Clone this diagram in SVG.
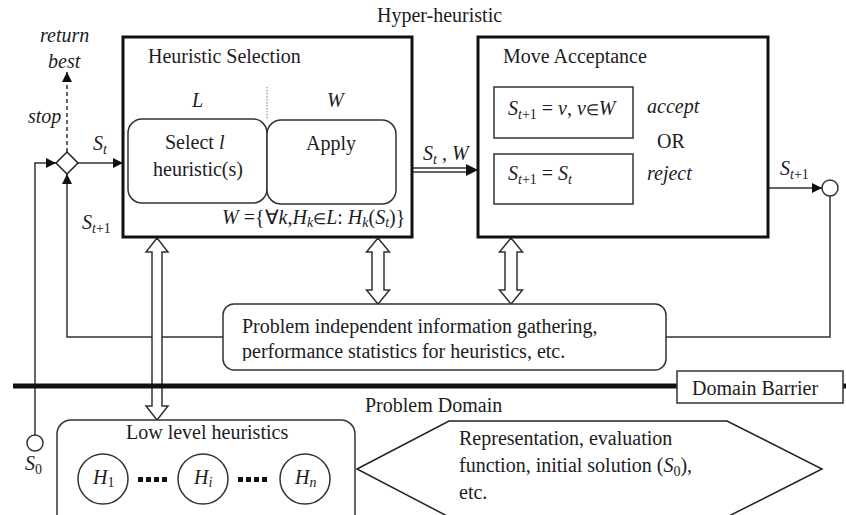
<svg xmlns="http://www.w3.org/2000/svg" width="846" height="515" viewBox="0 0 846 515">
  <defs>
    <marker id="tri" viewBox="0 0 10 10" refX="10" refY="5" markerWidth="10" markerHeight="10" markerUnits="userSpaceOnUse" orient="auto">
      <path d="M0,0 L10,5 L0,10 Z" fill="#111"/>
    </marker>
    <marker id="triBig" viewBox="0 0 12 12" refX="12" refY="6" markerWidth="12" markerHeight="12" markerUnits="userSpaceOnUse" orient="auto">
      <path d="M0,0 L12,6 L0,12 Z" fill="#111"/>
    </marker>
    <clipPath id="infoClip">
      <rect x="223" y="304" width="443" height="57"/>
    </clipPath>
  </defs>
  <style>
    text { font-family: "Liberation Serif", "Times New Roman", serif; fill: #1c1c24; font-size: 20px; }
    .it { font-style: italic; }
    .sub { font-size: 14px; }
    .elem { font-size: 15px; }
    .big { stroke: #111; stroke-width: 3; fill: #fff; }
    .box { stroke: #333; stroke-width: 1.5; fill: #fff; }
    .ln { stroke: #333; stroke-width: 1.5; fill: none; }
    .hollow { stroke: #333; stroke-width: 1.5; fill: #fff; }
  </style>
  <rect width="846" height="515" fill="#fff"/>

  <!-- title -->
  <text x="377" y="22">Hyper-heuristic</text>

  <!-- connectors -->
  <g id="connectors">
    <!-- S0 feed into decision diamond -->
    <line class="ln" x1="35" y1="435" x2="35" y2="163"/>
    <line class="ln" x1="34.3" y1="163" x2="56" y2="163" marker-end="url(#tri)"/>
    <!-- feedback loop from info gathering -->
    <polyline class="ln" points="223,337 67,337 67,174" marker-end="url(#tri)"/>
    <!-- diamond to heuristic selection -->
    <line class="ln" x1="78" y1="163" x2="123" y2="163" marker-end="url(#tri)"/>
    <!-- stop: return best -->
    <line class="ln" x1="67" y1="152" x2="67" y2="72" stroke-dasharray="4,3" marker-end="url(#tri)"/>
    <!-- St, W double line -->
    <line class="ln" x1="413" y1="168" x2="468" y2="168"/>
    <line class="ln" x1="413" y1="172" x2="468" y2="172"/>
    <line x1="466" y1="170" x2="478" y2="170" stroke="none" marker-end="url(#triBig)"/>
    <!-- St+1 out of move acceptance -->
    <line class="ln" x1="768" y1="188" x2="822" y2="188" marker-end="url(#tri)"/>
    <polyline class="ln" points="830,196 830,337 666,337"/>
    <!-- hollow double-headed arrows -->
    <path class="hollow" d="M157,238 L168,252 L162,252 L162,406 L168,406 L157,420 L146,406 L152,406 L152,252 L146,252 Z"/>
    <path class="hollow" d="M378,238 L389.5,252 L384,252 L384,290 L389.5,290 L378,304 L366.5,290 L372,290 L372,252 L366.5,252 Z"/>
    <path class="hollow" d="M511,238 L522.5,252 L517,252 L517,290 L522.5,290 L511,304 L499.5,290 L505,290 L505,252 L499.5,252 Z"/>
  </g>

  <!-- decision diamond -->
  <g id="decision">
    <path d="M67,152 L78,163 L67,174 L56,163 Z" fill="#fff" stroke="#222" stroke-width="1.5"/>
    <text class="it" x="40" y="42">return</text>
    <text class="it" x="48" y="68">best</text>
    <text class="it" x="28" y="123">stop</text>
    <text x="93" y="150"><tspan class="it">S</tspan><tspan class="it sub" dy="4">t</tspan></text>
    <text x="82" y="229"><tspan class="it">S</tspan><tspan class="sub" dy="4"><tspan class="it">t</tspan>+1</tspan></text>
  </g>

  <!-- start -->
  <g id="start">
    <circle cx="35" cy="443" r="8" fill="#fff" stroke="#333" stroke-width="1.5"/>
    <text x="25" y="470"><tspan class="it">S</tspan><tspan class="sub" dy="4">0</tspan></text>
  </g>

  <!-- heuristic selection -->
  <g id="heuristic-selection">
    <rect class="big" x="123" y="37" width="289" height="200"/>
    <text x="148" y="63">Heuristic Selection</text>
    <line x1="267" y1="87" x2="267" y2="119" stroke="#777" stroke-width="1" stroke-dasharray="1.5,1.5"/>
    <text class="it" x="192" y="107">L</text>
    <text class="it" x="327" y="107">W</text>
    <rect class="box" x="128" y="119" width="139" height="84" rx="14"/>
    <rect class="box" x="267" y="120" width="129" height="84" rx="14"/>
    <text x="165" y="149">Select  <tspan class="it">l</tspan></text>
    <text x="153" y="176">heuristic(s)</text>
    <text x="306" y="150">Apply</text>
    <text x="222" y="224" font-size="19"><tspan class="it">W</tspan> ={∀<tspan class="it">k</tspan>,<tspan class="it">H</tspan><tspan class="it sub" dy="3">k</tspan><tspan class="elem" dy="-3">∈</tspan><tspan class="it">L</tspan>: <tspan class="it">H</tspan><tspan class="it sub" dy="3">k</tspan><tspan dy="-3">(</tspan><tspan class="it">S</tspan><tspan class="it sub" dy="3">t</tspan><tspan dy="-3">)}</tspan></text>
  </g>

  <!-- St, W label -->
  <text x="423" y="160"><tspan class="it">S</tspan><tspan class="it sub" dy="4">t</tspan><tspan dy="-4"> , </tspan><tspan class="it">W</tspan></text>

  <!-- move acceptance -->
  <g id="move-acceptance">
    <rect class="big" x="478" y="37" width="290" height="200"/>
    <text x="503" y="63">Move Acceptance</text>
    <rect class="box" x="494" y="87" width="139" height="51"/>
    <rect class="box" x="494" y="154" width="139" height="50"/>
    <text x="508" y="115" font-size="19"><tspan class="it">S</tspan><tspan class="sub" dy="4"><tspan class="it">t</tspan>+1</tspan><tspan dy="-4"> = </tspan><tspan class="it">v</tspan>, <tspan class="it">v</tspan><tspan class="elem">∈</tspan><tspan class="it">W</tspan></text>
    <text x="508" y="180" font-size="19"><tspan class="it">S</tspan><tspan class="sub" dy="4"><tspan class="it">t</tspan>+1</tspan><tspan dy="-4"> = </tspan><tspan class="it">S</tspan><tspan class="it sub" dy="4">t</tspan></text>
    <text class="it" x="647" y="113">accept</text>
    <text x="657" y="148">OR</text>
    <text class="it" x="647" y="180">reject</text>
  </g>

  <!-- output -->
  <g id="output">
    <circle cx="830" cy="188" r="8" fill="#fff" stroke="#333" stroke-width="1.5"/>
    <text x="780" y="175"><tspan class="it">S</tspan><tspan class="sub" dy="4"><tspan class="it">t</tspan>+1</tspan></text>
  </g>

  <!-- information gathering -->
  <g id="info-gathering">
    <rect class="box" x="223" y="304" width="443" height="66" rx="11"/>
    <g clip-path="url(#infoClip)">
      <text x="242" y="333">Problem independent information gathering,</text>
      <text x="242" y="358">performance statistics for heuristics, etc.</text>
    </g>
  </g>

  <!-- domain barrier -->
  <g id="domain-barrier">
    <line x1="13" y1="386" x2="846" y2="386" stroke="#111" stroke-width="5"/>
    <rect x="677" y="371" width="166" height="32" fill="#fff" stroke="#333" stroke-width="1.5"/>
    <text x="692" y="395">Domain Barrier</text>
  </g>

  <text x="365" y="412">Problem Domain</text>

  <!-- low level heuristics -->
  <g id="low-level-heuristics">
    <rect class="box" x="57" y="420" width="298" height="120" rx="14"/>
    <text x="126" y="439">Low level heuristics</text>
    <circle class="box" cx="103" cy="479" r="25"/>
    <circle class="box" cx="203" cy="479" r="25"/>
    <circle class="box" cx="305" cy="479" r="25"/>
    <text x="93" y="484"><tspan class="it">H</tspan><tspan class="sub" dy="3">1</tspan></text>
    <text x="194" y="484"><tspan class="it">H</tspan><tspan class="it sub" dy="3">i</tspan></text>
    <text x="295" y="484"><tspan class="it">H</tspan><tspan class="it sub" dy="3">n</tspan></text>
    <g fill="#111">
      <rect x="138" y="477" width="5" height="5"/><rect x="146" y="477" width="5" height="5"/><rect x="154" y="477" width="5" height="5"/><rect x="162" y="477" width="5" height="5"/>
      <rect x="238" y="477" width="5" height="5"/><rect x="246" y="477" width="5" height="5"/><rect x="254" y="477" width="5" height="5"/><rect x="262" y="477" width="5" height="5"/>
    </g>
  </g>

  <!-- problem domain components -->
  <g id="problem-domain">
    <path d="M357,469 L449,421 L727,421 L822,469 L727,517 L449,517 Z" fill="#fff" stroke="#222" stroke-width="1.5"/>
    <text x="459" y="445">Representation, evaluation</text>
    <text x="459" y="472">function, initial solution (<tspan class="it">S</tspan><tspan class="sub" dy="4">0</tspan><tspan dy="-4">),</tspan></text>
    <text x="459" y="499">etc.</text>
  </g>
</svg>
